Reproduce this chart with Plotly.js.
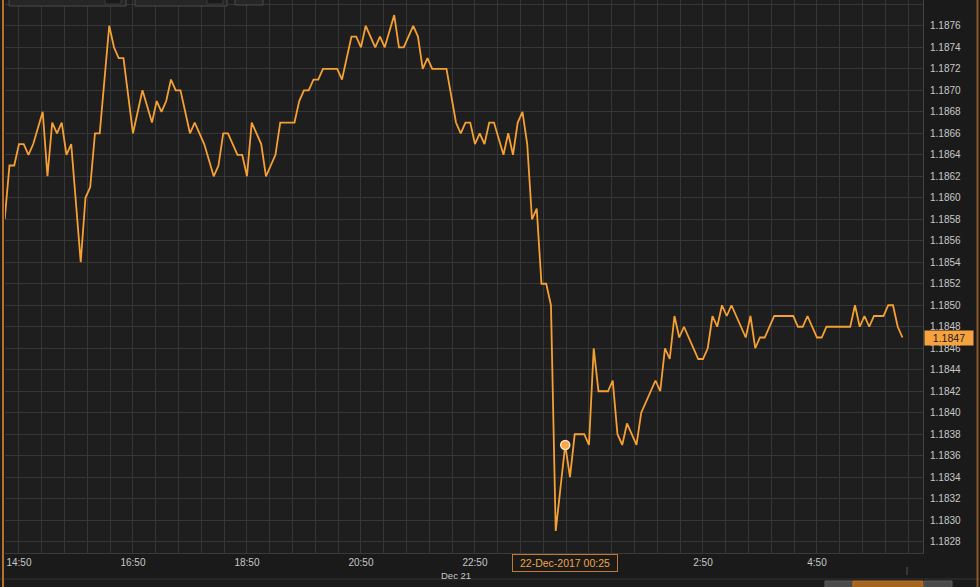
<!DOCTYPE html>
<html><head><meta charset="utf-8">
<script src="https://cdn.plot.ly/plotly-3.0.1.min.js"></script>
<style>html,body{margin:0;padding:0;background:#1a1a1a;overflow:hidden}#chart{width:980px;height:587px}</style>
</head><body><div id="chart"></div>
<script>
// EUR/USD, 5-minute data, 21-22 Dec 2017 (clock times; hours < 14 are on Dec 22)
const times = [
'14:35','14:40','14:45','14:50','14:55','15:00','15:05','15:15','15:20','15:25','15:30','15:35','15:40','15:45','15:55',
'16:00','16:05','16:10','16:15','16:25','16:30','16:35','16:40','16:50','17:00','17:10','17:15','17:20','17:25','17:30',
'17:35','17:40','17:50','17:55','18:05','18:15','18:20','18:25','18:30','18:40','18:45','18:50','18:55','19:05','19:10',
'19:20','19:25','19:40','19:45','19:50','19:55','20:00','20:05','20:10','20:25','20:30','20:40','20:45','20:50','20:55',
'21:05','21:10','21:15','21:25','21:30','21:35','21:45','21:50','21:55','22:00','22:05','22:20','22:30','22:35','22:40',
'22:45','22:50','22:55','23:00','23:05','23:10','23:20','23:25','23:30','23:35','23:40','23:45','23:50','23:55','00:00',
'00:05','00:10','00:15','00:25','00:30','00:35','00:45','00:50','00:55','01:00','01:10','01:15','01:20','01:25','01:30',
'01:40','01:45','02:00','02:05','02:10','02:15','02:20','02:25','02:30','02:45','02:50','02:55','03:00','03:05','03:10',
'03:15','03:20','03:35','03:40','03:45','03:50','03:55','04:05','04:25','04:30','04:35','04:40','04:50','04:55','05:00',
'05:25','05:30','05:35','05:40','05:45','05:50','06:00','06:05','06:10','06:15','06:20'];
const values = [
1.1858,1.1863,1.1863,1.1865,1.1865,1.1864,1.1865,1.1868,1.1862,1.1867,1.1866,1.1867,1.1864,1.1865,1.1854,
1.1860,1.1861,1.1866,1.1866,1.1876,1.1874,1.1873,1.1873,1.1866,1.1870,1.1867,1.1869,1.1868,1.1869,1.1871,
1.1870,1.1870,1.1866,1.1867,1.1865,1.1862,1.1863,1.1866,1.1866,1.1864,1.1864,1.1862,1.1867,1.1865,1.1862,
1.1864,1.1867,1.1867,1.1869,1.1870,1.1870,1.1871,1.1871,1.1872,1.1872,1.1871,1.1875,1.1875,1.1874,1.1876,
1.1874,1.1875,1.1874,1.1877,1.1874,1.1874,1.1876,1.1875,1.1872,1.1873,1.1872,1.1872,1.1867,1.1866,1.1867,
1.1867,1.1865,1.1866,1.1865,1.1867,1.1867,1.1864,1.1866,1.1864,1.1867,1.1868,1.1865,1.1858,1.1859,1.1852,
1.1852,1.1850,1.1829,1.1837,1.1834,1.1838,1.1838,1.1837,1.1846,1.1842,1.1842,1.1843,1.1838,1.1837,1.1839,
1.1837,1.1840,1.1843,1.1842,1.1846,1.1845,1.1849,1.1847,1.1848,1.1845,1.1845,1.1846,1.1849,1.1848,1.1850,
1.1849,1.1850,1.1847,1.1849,1.1846,1.1847,1.1847,1.1849,1.1849,1.1848,1.1848,1.1849,1.1847,1.1847,1.1848,
1.1848,1.1850,1.1848,1.1849,1.1848,1.1849,1.1849,1.1850,1.1850,1.1848,1.1847];
const xTickLabels = ['14:50','16:50','18:50','20:50','22:50','','2:50','4:50'];
const markerTime = '00:25';
const dateLabel = '22-Dec-2017 00:25';
const dayLabel = 'Dec 21';

function toDate(t){ const h = +t.split(':')[0]; return (h >= 14 ? '2017-12-21 ' : '2017-12-22 ') + t; }
const x = times.map(toDate);
const mIdx = times.indexOf(markerTime);

// axis geometry helpers (pixel -> paper)
const PX = p => (p - 5) / 918;
const PY = p => (553 - p) / 553;

const xRange = ['2017-12-21 14:35:18', '2017-12-22 06:41:36'];
function fmt(ms){ const d = new Date(ms); const z = n => String(n).padStart(2,'0');
  return d.getUTCFullYear()+'-'+z(d.getUTCMonth()+1)+'-'+z(d.getUTCDate())+' '+z(d.getUTCHours())+':'+z(d.getUTCMinutes()); }
const startMs = Date.UTC(2017,11,21,14,50), endMs = Date.UTC(2017,11,22,6,41);
const tickvals = [], ticktext = [];
for (let i = 0, ms = startMs; ms <= endMs; i++, ms += 24*60000) {
  tickvals.push(fmt(ms));
  ticktext.push(i % 5 === 0 ? (xTickLabels[i/5] || '') : '');
}

const traces = [
  {type:'scatter', mode:'lines', x:x, y:values, line:{color:'#f5a033', width:1.8}, hoverinfo:'skip'},
  {type:'scatter', mode:'markers', x:[x[mIdx]], y:[values[mIdx]],
   marker:{size:9, color:'#f6a64c', line:{color:'#fde2bd', width:1.5}}, hoverinfo:'skip'}
];

const box = (x0,y0,x1,y1,fill,line) => ({type:'rect', xref:'paper', yref:'paper',
  x0:PX(x0), x1:PX(x1), y0:PY(y1), y1:PY(y0), fillcolor:fill, line:{color:line||fill, width:1}, layer:'above'});
const shapes = [
  box(9,-2,126,6,'#262626','#4a4a4a'), box(105,-2,121,4,'#1a1a1a','#3a3a3a'),
  box(135,-2,227,6,'#262626','#4a4a4a'), box(207,-2,223,4,'#1a1a1a','#3a3a3a'),
  box(235,-2,263,5,'#262626','#4a4a4a'),
  {type:'line', xref:'paper', yref:'paper', x0:PX(0), x1:PX(980), y0:PY(579), y1:PY(579), line:{color:'#333333', width:1}},
  {type:'line', xref:'paper', yref:'paper', x0:PX(907), x1:PX(907), y0:PY(567), y1:PY(575), line:{color:'#555555', width:1}},
  box(825,581,853,590,'#4a4a4a','#5a5a5a'),
  box(853,581,923,590,'#a5651f','#b8742a'),
  box(924,581,952,590,'#4a4a4a','#5a5a5a'),
  {type:'line', xref:'paper', yref:'paper', x0:PX(3), x1:PX(3), y0:PY(-2), y1:PY(590), line:{color:'#b8702c', width:2}},
  {type:'line', xref:'paper', yref:'paper', x0:PX(977.5), x1:PX(977.5), y0:PY(-2), y1:PY(590), line:{color:'#8a5a28', width:2}}
];

const annotations = [
  {xref:'paper', x:1, xanchor:'left', xshift:1, yref:'y', y:values[values.length-1], yanchor:'middle',
   text:values[values.length-1].toFixed(4), showarrow:false, bgcolor:'#f6a23e', width:46, height:12, borderpad:1,
   font:{family:'Liberation Sans, Arial, sans-serif', size:10.5, color:'#1a1a1a'}},
  {xref:'x', x:x[mIdx], yref:'paper', y:PY(563), yanchor:'middle', text:dateLabel, showarrow:false,
   bgcolor:'#1a1a1a', bordercolor:'#c07a30', borderwidth:1, borderpad:2, width:100, height:12,
   font:{family:'Liberation Sans, Arial, sans-serif', size:10.5, color:'#f0a445'}},
  {xref:'x', x:'2017-12-21 22:30', yref:'paper', y:PY(575), yanchor:'middle', text:dayLabel, showarrow:false,
   font:{family:'Liberation Sans, Arial, sans-serif', size:9.5, color:'#c8c8c8'}}
];

const layout = {
  width:980, height:587, margin:{l:5, r:57, t:0, b:34},
  paper_bgcolor:'#1a1a1a', plot_bgcolor:'#1e1e1e', showlegend:false,
  font:{family:'Liberation Sans, Arial, sans-serif', size:10, color:'#c8c8c8'},
  xaxis:{type:'date', range:xRange, tickmode:'array', tickvals:tickvals, ticktext:ticktext,
    showgrid:true, gridcolor:'#363636', gridwidth:1, zeroline:false, ticks:'', ticklabelstandoff:0,
    showline:true, linecolor:'#3a3a3a', tickfont:{size:10, color:'#c8c8c8'}, fixedrange:true},
  yaxis:{side:'right', range:[1.182695, 1.18784], tickmode:'linear', tick0:1.1828, dtick:0.0002, tickformat:'.4f',
    showgrid:true, gridcolor:'#363636', gridwidth:1, zeroline:false, showline:true, linecolor:'#444444',
    ticks:'outside', ticklen:4, tickcolor:'rgba(0,0,0,0)', tickfont:{size:10, color:'#c8c8c8'}, fixedrange:true},
  shapes:shapes, annotations:annotations
};

Plotly.newPlot('chart', traces, layout, {staticPlot:true, displayModeBar:false});
</script>
</body></html>
